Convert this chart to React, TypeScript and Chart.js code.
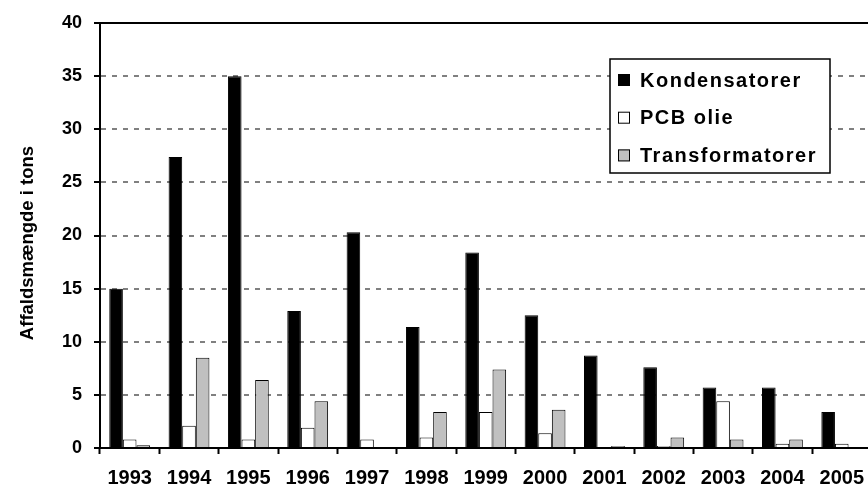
import React, { useEffect, useRef } from 'react';
import { Chart, registerables } from 'chart.js';

Chart.register(...registerables);

const years = ['1993', '1994', '1995', '1996', '1997', '1998', '1999', '2000', '2001', '2002', '2003', '2004', '2005'];
const kondensatorer = [15, 27.4, 35, 12.9, 20.3, 11.4, 18.4, 12.5, 8.7, 7.6, 5.7, 5.7, 3.4];
const pcbOlie = [0.8, 2.1, 0.8, 1.9, 0.8, 1.0, 3.4, 1.4, 0, 0.2, 4.4, 0.4, 0.4];
const transformatorer = [0.25, 8.5, 6.4, 4.4, 0, 3.4, 7.4, 3.6, 0.2, 1.0, 0.8, 0.8, 0];
const seriesLabels = ['Kondensatorer', 'PCB olie', 'Transformatorer'];
const seriesColors = ['#000000', '#ffffff', '#c0c0c0'];
const yTitle = 'Affaldsmængde i tons';
const yMin = 0;
const yMax = 40;
const yStep = 5;

const FONT = '"Liberation Sans", Arial, Helvetica, sans-serif';

const topLinePlugin = {
  id: 'topLine',
  afterDraw(chart: any) {
    const { ctx, chartArea } = chart;
    ctx.save();
    ctx.strokeStyle = '#000';
    ctx.lineWidth = 2;
    ctx.beginPath();
    ctx.moveTo(chartArea.left - 6, chartArea.top);
    ctx.lineTo(chartArea.right, chartArea.top);
    ctx.stroke();
    // y axis title
    ctx.translate(28, 243);
    ctx.rotate(-Math.PI / 2);
    ctx.font = `bold 18.5px ${FONT}`;
    ctx.fillStyle = '#000';
    ctx.textAlign = 'center';
    ctx.textBaseline = 'middle';
    ctx.fillText(yTitle, 0, 0);
    ctx.restore();
  },
};

const boxLegendPlugin = {
  id: 'boxLegend',
  afterDraw(chart: any) {
    const ctx = chart.ctx;
    ctx.save();
    const x = 610, y = 59, w = 220, h = 114;
    ctx.fillStyle = '#fff';
    ctx.fillRect(x, y, w, h);
    ctx.lineWidth = 1.5;
    ctx.strokeStyle = '#000';
    ctx.strokeRect(x, y, w, h);
    ctx.font = `bold 20px ${FONT}`;
    try { (ctx as any).letterSpacing = '1.5px'; } catch (e) {}
    ctx.textBaseline = 'middle';
    ctx.textAlign = 'left';
    chart.data.datasets.forEach((ds: any, i: number) => {
      const cy = 80 + i * 37.7;
      ctx.fillStyle = ds.backgroundColor;
      ctx.fillRect(618, cy - 6, 12, 12);
      ctx.lineWidth = 1;
      ctx.strokeStyle = '#000';
      ctx.strokeRect(618.5, cy - 5.5, 11, 11);
      ctx.fillStyle = '#000';
      ctx.fillText(ds.label, 640, cy + 1);
    });
    ctx.restore();
  },
};

export default function App() {
  const ref = useRef<HTMLCanvasElement | null>(null);

  useEffect(() => {
    if (!ref.current) return;
    const series = [kondensatorer, pcbOlie, transformatorer];
    const chart = new Chart(ref.current, {
      type: 'bar',
      data: {
        labels: years,
        datasets: series.map((d, i) => ({
          label: seriesLabels[i],
          data: d,
          backgroundColor: seriesColors[i],
          borderColor: '#000',
          borderWidth: 1,
          barPercentage: 1,
          categoryPercentage: 0.688,
        })),
      },
      options: {
        responsive: false,
        animation: false,
        layout: { padding: { top: 23, right: 0, bottom: 0, left: 0 } },
        plugins: {
          legend: { display: false },
          tooltip: { enabled: false },
        },
        scales: {
          x: {
            offset: true,
            grid: {
              display: true,
              drawOnChartArea: false,
              drawTicks: true,
              tickLength: 6,
              tickColor: '#000',
              tickWidth: 2,
              offset: true,
            },
            border: { display: true, color: '#000', width: 2 },
            ticks: {
              color: '#000',
              font: { family: FONT, size: 20, weight: 'bold' },
              padding: 12,
              maxRotation: 0,
              autoSkip: false,
            },
            afterFit(scale: any) {
              scale.height = 40;
            },
          },
          y: {
            min: yMin,
            max: yMax,
            ticks: {
              stepSize: yStep,
              color: '#000',
              font: { family: FONT, size: 18, weight: 'bold' },
              padding: 12,
            },
            grid: {
              color: (c: any) => (c.tick && (c.tick.value === yMin || c.tick.value === yMax) ? 'rgba(0,0,0,0)' : '#808080'),
              lineWidth: 2,
              tickColor: '#000',
              tickWidth: 2,
              tickLength: 6,
              tickBorderDash: [],
            },
            border: { display: true, color: '#000', width: 2, dash: [5, 6] },
            title: { display: false, text: yTitle },
            afterFit(scale: any) {
              scale.width = 100;
            },
          },
        },
      },
      plugins: [topLinePlugin, boxLegendPlugin],
    });
    return () => chart.destroy();
  }, []);

  return (
    <div style={{ position: 'fixed', left: 0, top: 0, width: 868, height: 488, overflow: 'hidden', background: '#fff' }}>
      <canvas ref={ref} width={876} height={488} style={{ display: 'block' }} />
    </div>
  );
}
